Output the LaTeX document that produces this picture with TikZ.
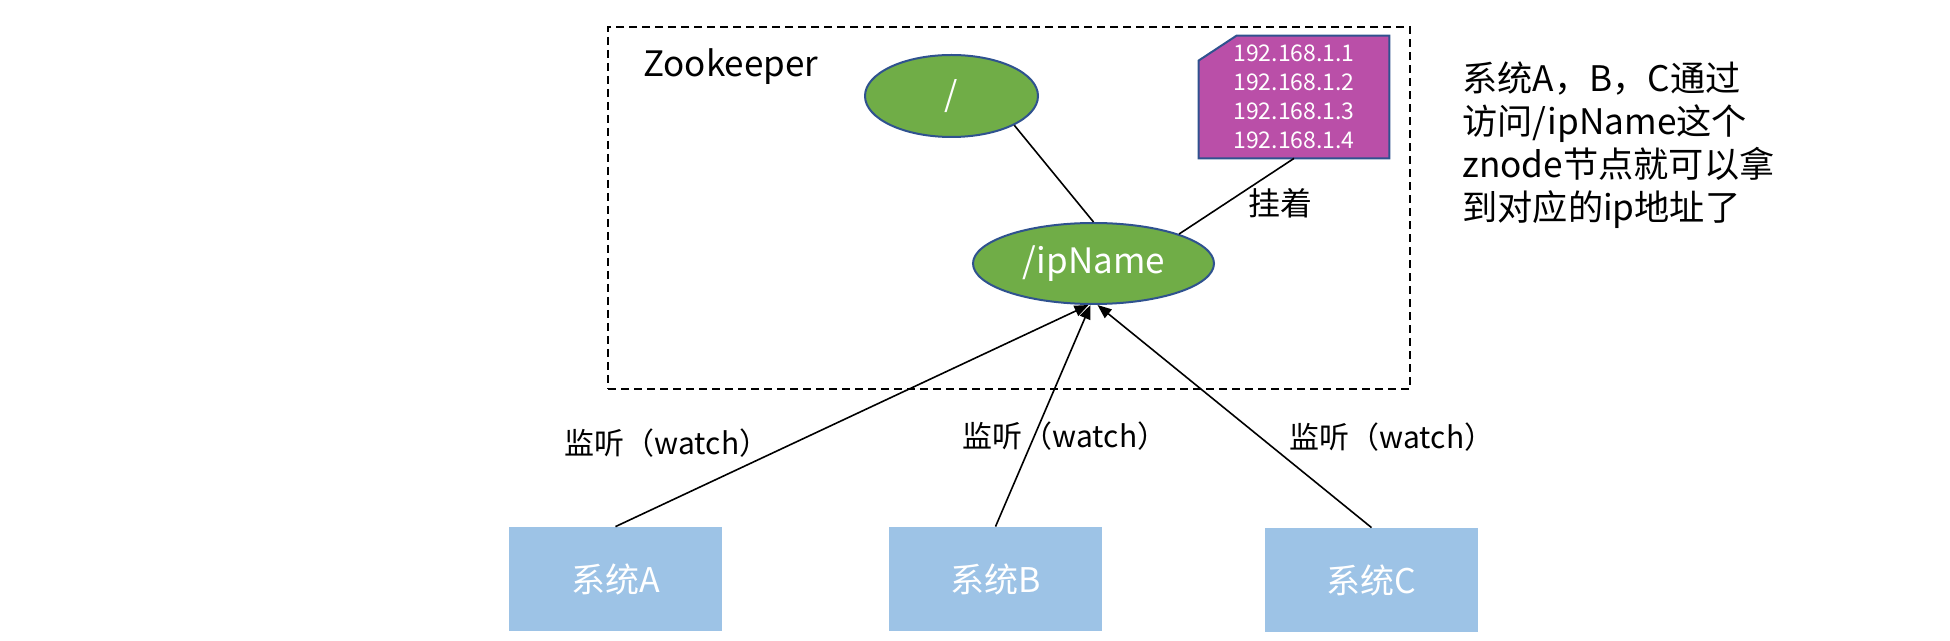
\documentclass[tikz,border=0pt]{standalone}
\usepackage{fontspec}
\setmainfont{Noto Sans CJK SC}
\usetikzlibrary{arrows.meta,shapes.geometric,backgrounds}
\definecolor{nodegreen}{HTML}{70AD47}
\definecolor{nodeborder}{HTML}{2F528F}
\definecolor{notepurple}{HTML}{BA4FA8}
\definecolor{sysblue}{HTML}{9DC3E6}
\tikzset{
  znode/.style={ellipse, fill=nodegreen, draw=nodeborder, line width=1pt, text=white, inner sep=0pt},
  sysbox/.style={rectangle, fill=sysblue, minimum width=106.5pt, minimum height=52pt, text=white, font=\fontsize{17}{20}\selectfont},
  link/.style={line width=0.8pt},
  watcharrow/.style={line width=0.8pt, -{Triangle[length=7pt,width=5.5pt]}},
  lbl/.style={font=\fontsize{15}{18}\selectfont, inner sep=0pt}
}
\begin{document}
\begin{tikzpicture}[x=0.5pt,y=-0.5pt]
\useasboundingbox (0,0) rectangle (1950,641);
% container
\node[draw, line width=1pt, dash pattern=on 4pt off 2.5pt, minimum width=401pt, minimum height=181pt, inner sep=0pt] (zk) at (1009,208) {};
\node[font=\fontsize{17.5}{20}\selectfont, anchor=west, inner sep=0pt] (zklabel) at (643,67) {Zookeeper};
% znodes
\node[znode, minimum width=86.5pt, minimum height=41pt, font=\fontsize{17}{20}\selectfont] (root) at (951.5,96) {/};
\node[znode, minimum width=120.5pt, minimum height=40.5pt, font=\fontsize{17.5}{20}\selectfont] (ipname) at (1093.5,263.5) {/ipName};
% note
\node[minimum width=95pt, minimum height=61pt, inner sep=0pt, text=white, align=center, font=\fontsize{11.5}{14.5}\selectfont] (note) at (1294,97)
  {192.168.1.1\\192.168.1.2\\192.168.1.3\\192.168.1.4};
\begin{scope}[on background layer]
\filldraw[fill=notepurple, draw=nodeborder, line width=1pt]
  (note.south west) -- (note.south east) -- (note.north east)
  -- ([xshift=19pt]note.north west) -- ([yshift=-12.5pt]note.north west) -- cycle;
\end{scope}
\draw[link] (root.-25) -- (ipname.north);
\draw[link] (ipname.19) -- (note.south);
\node[lbl, font=\fontsize{16}{19}\selectfont] (hang) at (1280,203) {挂着};
% explanation
\node[anchor=north west, align=left, inner sep=0pt, font=\fontsize{17.6}{21.6}\selectfont] (expl) at (1462,61)
  {系统A，B，C通过\\访问/ipName这个\\znode节点就可以拿\\到对应的ip地址了};
% systems
\node[sysbox] (sa) at (615.5,579) {系统A};
\node[sysbox] (sb) at (995.5,579) {系统B};
\node[sysbox] (sc) at (1371.5,580) {系统C};
\draw[watcharrow] (sa.north) -- ([xshift=-2.5pt]ipname.south);
\draw[watcharrow] (sb.north) -- ([xshift=-1.5pt]ipname.south);
\draw[watcharrow] (sc.north) -- ([xshift=2pt]ipname.south);
\node[lbl] (wa) at (667,443) {监听（watch）};
\node[lbl] (wb) at (1065,436) {监听（watch）};
\node[lbl] (wc) at (1392,437) {监听（watch）};
\end{tikzpicture}
\end{document}
